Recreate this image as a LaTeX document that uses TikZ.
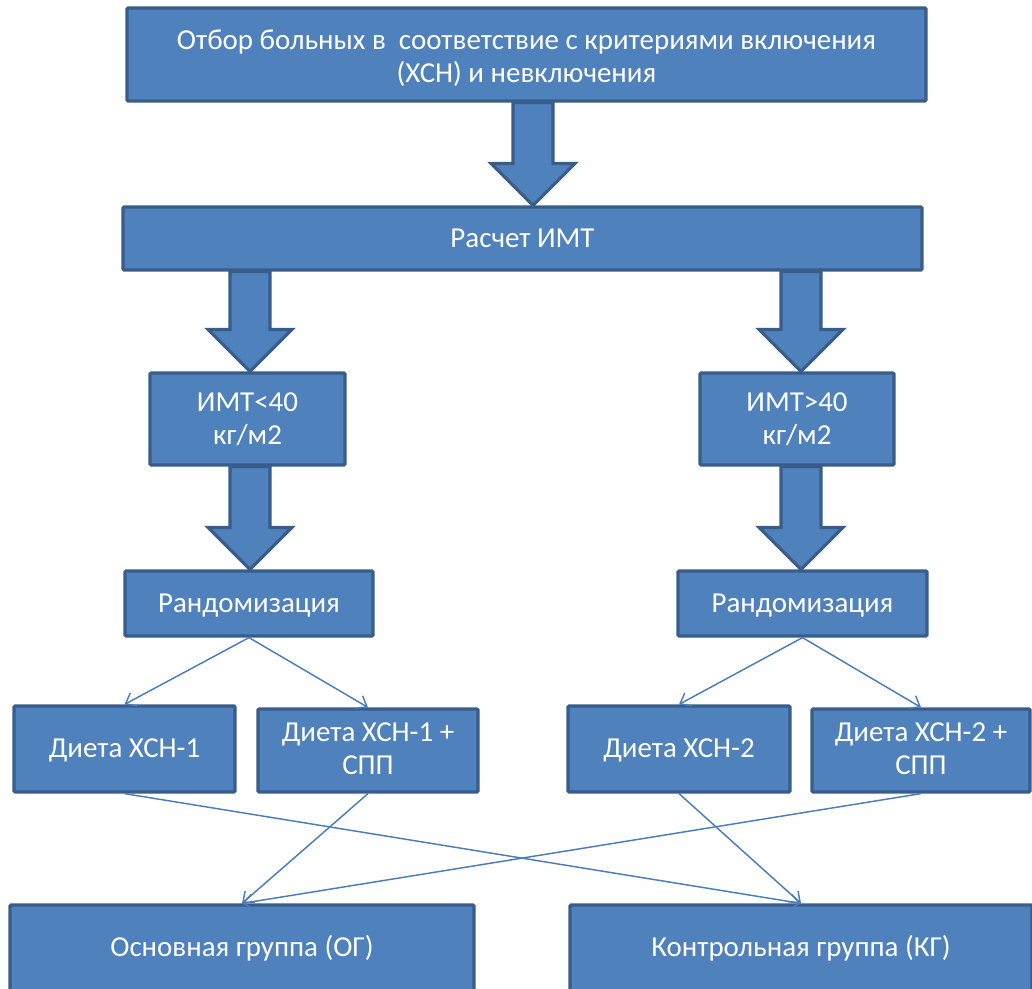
\documentclass[tikz,border=0pt]{standalone}
\usepackage{fontspec}
\setmainfont{Carlito}
\usetikzlibrary{arrows.meta,calc}
\definecolor{boxfill}{HTML}{4F81BD}
\definecolor{boxline}{HTML}{385D8A}
\definecolor{thinline}{HTML}{4A7EBB}
\tikzset{
  box/.style={draw=boxline, line width=2.4pt, fill=boxfill, text=white,
    inner sep=0pt, font=\fontsize{21.7}{24.75}\selectfont, rounded corners=0.8pt},
  barrow/.style={draw=boxline, line width=2.4pt, fill=boxfill, line join=miter},
  thin/.style={draw=thinline, line width=1.1pt, -{Straight Barb[length=7pt,width=11pt]}}
}
\newcommand{\lowtxt}[2][1.6pt]{\raisebox{-#1}[\height][\depth]{\begin{tabular}{@{}c@{}}#2\end{tabular}}}
\newcommand{\blockarr}[3]{%
  \path let \p1=(#1.south), \p2=(#2.north), \n1={#3} in
    [barrow] (\n1-15pt,\y1) -- (\n1-15pt,\y2+31.5pt) -- (\n1-31.5pt,\y2+31.5pt)
    -- (\n1,\y2) -- (\n1+31.5pt,\y2+31.5pt) -- (\n1+15pt,\y2+31.5pt) -- (\n1+15pt,\y1) -- cycle;}
\begin{document}
\begin{tikzpicture}[x=0.75pt,y=-0.75pt]
\useasboundingbox (0,0) rectangle (1032,989);
\clip (0,0) rectangle (1032,989);
\node[box, minimum width=799*0.75pt, minimum height=93*0.75pt] (top) at (526.5,54.5)
  {\lowtxt[3.7pt]{Отбор больных в\ \ соответствие с критериями включения\\(ХСН) и невключения}};
\node[box, minimum width=799*0.75pt, minimum height=63*0.75pt] (calc) at (522.5,238.5) {\lowtxt{Расчет ИМТ}};
\node[box, minimum width=195*0.75pt, minimum height=92*0.75pt] (bmil) at (247.5,419) {\lowtxt{ИМТ<40\\кг/м2}};
\node[box, minimum width=194*0.75pt, minimum height=92*0.75pt] (bmir) at (797,419) {\lowtxt{ИМТ>40\\кг/м2}};
\node[box, minimum width=248*0.75pt, minimum height=65*0.75pt] (randl) at (249,603.5) {\lowtxt{Рандомизация}};
\node[box, minimum width=249*0.75pt, minimum height=65*0.75pt] (randr) at (802.5,603.5) {\lowtxt{Рандомизация}};
\node[box, minimum width=221*0.75pt, minimum height=86*0.75pt] (d1) at (124.5,749) {\lowtxt{Диета ХСН-1}};
\node[box, minimum width=220*0.75pt, minimum height=83*0.75pt] (d1s) at (368,750.5) {\lowtxt[0.8pt]{Диета ХСН-1 +\\СПП}};
\node[box, minimum width=222*0.75pt, minimum height=86*0.75pt] (d2) at (679,749) {\lowtxt{Диета ХСН-2}};
\node[box, minimum width=218*0.75pt, minimum height=83*0.75pt] (d2s) at (921,750.5) {\lowtxt[0.8pt]{Диета ХСН-2 +\\СПП}};
\node[box, minimum width=464*0.75pt, minimum height=90*0.75pt] (og) at (242,950) {\lowtxt[0pt]{Основная группа (ОГ)}};
\node[box, minimum width=462*0.75pt, minimum height=90*0.75pt] (kg) at (801,950) {\lowtxt[0pt]{Контрольная группа (КГ)}};
\blockarr{top}{calc}{533*0.75pt}
\blockarr{calc}{bmil}{250*0.75pt}
\blockarr{calc}{bmir}{801*0.75pt}
\blockarr{bmil}{randl}{250*0.75pt}
\blockarr{bmir}{randr}{801*0.75pt}
\draw[thin] (randl.south) -- (d1.north);
\draw[thin] (randl.south) -- (d1s.north);
\draw[thin] (randr.south) -- (d2.north);
\draw[thin] (randr.south) -- (d2s.north);
\draw[thin] (d1.south) -- (kg.north);
\draw[thin] (d1s.south) -- (og.north);
\draw[thin] (d2.south) -- (kg.north);
\draw[thin] (d2s.south) -- (og.north);
\end{tikzpicture}
\end{document}
